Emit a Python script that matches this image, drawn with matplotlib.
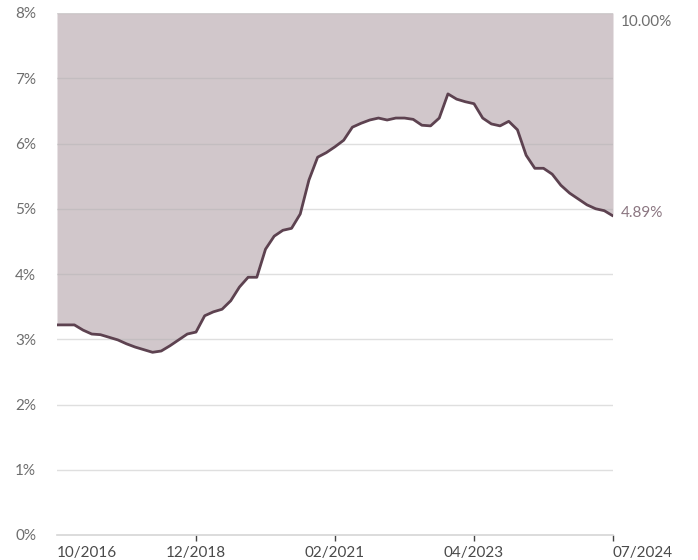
import numpy as np
import matplotlib.pyplot as plt

# sampled at evenly spaced points across the axis (64 steps)
rate = [3.22, 3.22, 3.22, 3.14, 3.08, 3.07, 3.03, 2.99, 2.93, 2.88,
        2.84, 2.80, 2.82, 2.90, 2.99, 3.08, 3.11, 3.36, 3.42, 3.46,
        3.59, 3.80, 3.95, 3.95, 4.38, 4.58, 4.67, 4.70, 4.92, 5.44,
        5.79, 5.86, 5.95, 6.05, 6.25, 6.31, 6.36, 6.39, 6.36, 6.39,
        6.39, 6.37, 6.28, 6.27, 6.39, 6.76, 6.68, 6.64, 6.61, 6.39,
        6.30, 6.27, 6.34, 6.21, 5.82, 5.62, 5.62, 5.53, 5.36, 5.24,
        5.15, 5.06, 5.00, 4.97, 4.89]
tick_labels = ["10/2016", "12/2018", "02/2021", "04/2023", "07/2024"]
y_ticks = [0, 1, 2, 3, 4, 5, 6, 7, 8]
cap_label = "10.00%"
last_label = "4.89%"

fill_color = "#d1c7cb"
line_color = "#5d4250"
text_color = "#6e6e6e"

x = np.arange(len(rate))
n = len(rate) - 1

fig = plt.figure(figsize=(6.98, 5.60), dpi=100)
ax = fig.add_axes([57 / 698, 25 / 560, 556 / 698, 522 / 560])
plt.rcParams['font.family'] = ['Lato', 'DejaVu Sans']

ax.fill_between(x, rate, 8, color=fill_color, lw=0, zorder=1)
for yt in y_ticks[1:]:
    ax.axhline(yt, color="#b0b0b0", alpha=0.4, lw=1, zorder=2)
ax.plot(x, rate, color=line_color, lw=2.0, zorder=3, solid_capstyle='round')

ax.set_xlim(0, n)
ax.set_ylim(0, 8)
ax.set_yticks(y_ticks)
ax.set_yticklabels([f"{v}%" for v in y_ticks], family=['Lato'], fontsize=11, color=text_color)
ax.tick_params(axis='y', length=0, pad=15)

pos = [i * n / 4 for i in range(5)]
ax.set_xticks(pos)
ax.set_xticklabels(tick_labels, family=['Lato'], fontsize=11, color="#4a4a4a")
labs = ax.get_xticklabels()
labs[0].set_ha('left')
labs[-1].set_ha('left')
ax.tick_params(axis='x', length=4, width=1, color="#444444", pad=4)
ax.xaxis.get_major_ticks()[0].tick1line.set_visible(False)

for s in ['top', 'right', 'left']:
    ax.spines[s].set_visible(False)
ax.spines['bottom'].set_color("#d6d6d6")
ax.spines['bottom'].set_linewidth(1.2)

ax.text(n + 0.9, 7.97, cap_label, ha='left', va='top', fontsize=11,
        color=text_color, family=['Lato'])
ax.text(n + 0.9, rate[-1] + 0.05, last_label, ha='left', va='center',
        fontsize=11, color="#8b7681", family=['Lato'])

fig.savefig("out.png", dpi=100)
